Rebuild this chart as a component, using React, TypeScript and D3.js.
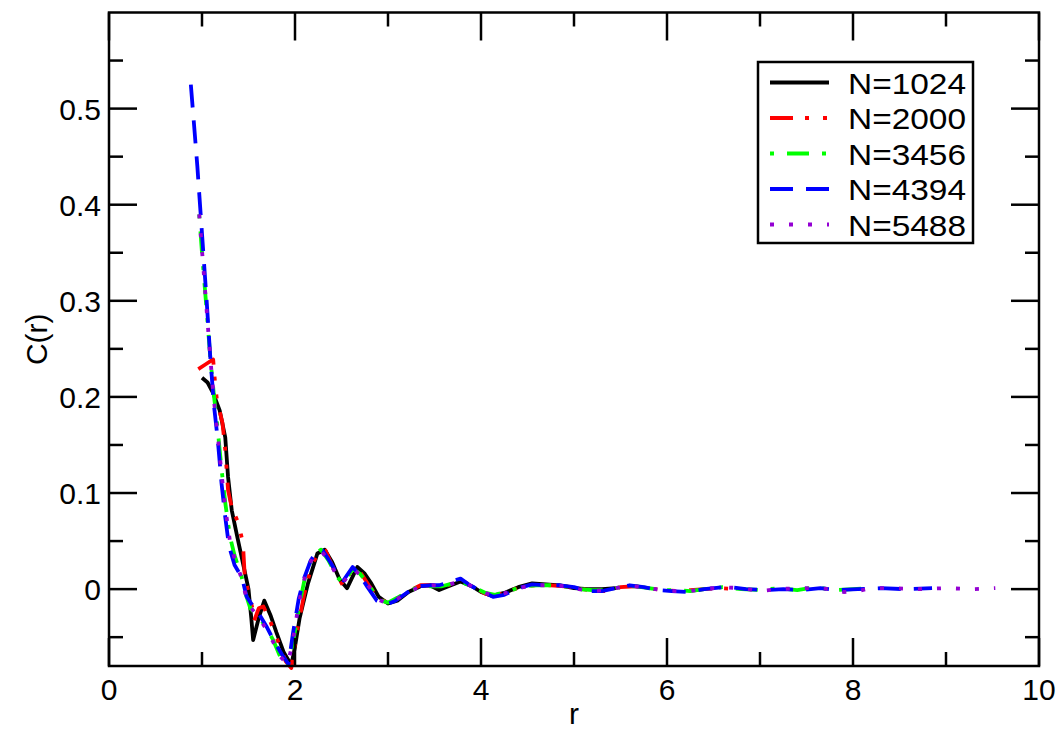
import React from "react";
import * as d3 from "d3";

// Correlation function C(r) for five system sizes
const seriesNames = ["N=1024", "N=2000", "N=3456", "N=4394", "N=5488"];

const r1024 = [1.0, 1.06, 1.12, 1.19, 1.25, 1.28, 1.32, 1.38, 1.44, 1.5, 1.53, 1.55, 1.61, 1.67, 1.74, 1.8, 1.88, 1.96, 2.0, 2.05, 2.14, 2.24, 2.32, 2.4, 2.48, 2.56, 2.67, 2.75, 2.82, 2.9, 3.0, 3.1, 3.22, 3.35, 3.45, 3.55, 3.65, 3.78, 3.9, 4.0, 4.12, 4.25, 4.4, 4.55, 4.7, 4.85, 5.0, 5.15, 5.3, 5.45];
const c1024 = [0.22, 0.215, 0.204, 0.186, 0.158, 0.117, 0.082, 0.054, 0.027, 0.0, -0.03, -0.053, -0.03, -0.012, -0.028, -0.045, -0.066, -0.079, -0.06, -0.03, 0.006, 0.037, 0.041, 0.028, 0.01, 0.001, 0.023, 0.016, 0.006, -0.008, -0.015, -0.012, -0.003, 0.003, 0.004, -0.001, 0.003, 0.008, 0.003, -0.003, -0.007, -0.004, 0.002, 0.006, 0.005, 0.004, 0.001, 0.0, 0.0, 0.001];

const r2000 = [0.96, 1.04, 1.12, 1.14, 1.16, 1.22, 1.25, 1.28, 1.32, 1.39, 1.44, 1.46, 1.54, 1.56, 1.61, 1.66, 1.74, 1.82, 1.9, 1.96, 2.02, 2.1, 2.18, 2.27, 2.33, 2.42, 2.52, 2.62, 2.7, 2.8, 2.9, 3.0, 3.1, 3.22, 3.35, 3.48, 3.58, 3.7, 3.8, 3.92, 4.05, 4.15, 4.3, 4.45, 4.6, 4.75, 4.9, 5.05, 5.2, 5.35, 5.5, 5.65, 5.8, 5.95, 6.1, 6.25, 6.4, 6.55, 6.8];
const c2000 = [0.229, 0.234, 0.239, 0.215, 0.197, 0.173, 0.145, 0.103, 0.085, 0.069, 0.048, 0.013, -0.019, -0.033, -0.02, -0.018, -0.035, -0.055, -0.075, -0.082, -0.045, -0.005, 0.025, 0.041, 0.04, 0.02, 0.003, 0.022, 0.018, 0.003, -0.01, -0.014, -0.01, -0.002, 0.004, 0.004, 0.002, 0.006, 0.009, 0.002, -0.005, -0.007, -0.002, 0.003, 0.004, 0.004, 0.003, 0.001, -0.002, -0.002, 0.002, 0.003, 0.001, -0.001, -0.002, -0.001, 0.0, 0.001, 0.0];

const r3456 = [0.97, 1.0, 1.05, 1.09, 1.13, 1.17, 1.21, 1.25, 1.3, 1.35, 1.42, 1.47, 1.52, 1.6, 1.68, 1.76, 1.84, 1.92, 1.98, 2.05, 2.12, 2.2, 2.28, 2.36, 2.45, 2.52, 2.62, 2.7, 2.8, 2.9, 3.0, 3.1, 3.22, 3.35, 3.48, 3.58, 3.7, 3.8, 3.92, 4.05, 4.15, 4.3, 4.45, 4.6, 4.75, 4.9, 5.05, 5.2, 5.35, 5.5, 5.65, 5.8, 5.95, 6.1, 6.25, 6.4, 6.6, 6.8, 7.0, 7.2, 7.4, 7.6, 7.8, 8.0, 8.16];
const c3456 = [0.39, 0.35, 0.29, 0.24, 0.2, 0.165, 0.125, 0.09, 0.055, 0.035, 0.015, -0.005, -0.02, -0.028, -0.038, -0.052, -0.07, -0.08, -0.055, -0.015, 0.018, 0.036, 0.041, 0.03, 0.013, 0.006, 0.021, 0.016, 0.003, -0.011, -0.014, -0.009, -0.002, 0.003, 0.003, 0.003, 0.006, 0.007, 0.002, -0.004, -0.006, -0.002, 0.003, 0.004, 0.004, 0.003, 0.0, -0.001, -0.001, 0.002, 0.003, 0.001, -0.001, -0.001, -0.002, 0.0, 0.002, 0.0, -0.001, 0.001, -0.001, 0.002, -0.001, 0.0, 0.001];

const r4394 = [0.88, 0.95, 1.0, 1.05, 1.09, 1.13, 1.17, 1.21, 1.25, 1.29, 1.35, 1.43, 1.48, 1.55, 1.62, 1.7, 1.78, 1.86, 1.93, 1.98, 2.04, 2.1, 2.17, 2.24, 2.3, 2.38, 2.46, 2.52, 2.62, 2.7, 2.78, 2.88, 2.98, 3.08, 3.2, 3.32, 3.45, 3.55, 3.65, 3.78, 3.88, 4.0, 4.13, 4.25, 4.4, 4.55, 4.7, 4.85, 5.0, 5.15, 5.3, 5.45, 5.6, 5.75, 5.9, 6.05, 6.23, 6.4, 6.64, 6.85, 7.05, 7.25, 7.45, 7.65, 7.85, 8.05, 8.3, 8.55, 8.85];
const c4394 = [0.525, 0.44, 0.37, 0.3, 0.24, 0.19, 0.155, 0.11, 0.075, 0.045, 0.025, 0.012, -0.008, -0.018, -0.027, -0.04, -0.055, -0.068, -0.078, -0.045, -0.01, 0.012, 0.03, 0.04, 0.04, 0.028, 0.015, 0.009, 0.023, 0.014, 0.002, -0.012, -0.016, -0.012, -0.004, 0.003, 0.004, 0.004, 0.007, 0.011, 0.004, -0.002, -0.008, -0.006, 0.001, 0.005, 0.004, 0.004, 0.002, -0.002, -0.002, 0.001, 0.004, 0.002, -0.001, -0.002, -0.003, 0.0, 0.0025, 0.0, -0.001, 0.0, -0.001, 0.001, -0.001, 0.0, 0.001, 0.0, 0.001];

const r5488 = [0.97, 1.01, 1.05, 1.09, 1.13, 1.17, 1.21, 1.25, 1.3, 1.35, 1.42, 1.47, 1.53, 1.6, 1.68, 1.76, 1.84, 1.92, 1.97, 2.04, 2.12, 2.2, 2.28, 2.36, 2.45, 2.52, 2.62, 2.7, 2.8, 2.9, 3.0, 3.1, 3.22, 3.35, 3.48, 3.58, 3.7, 3.8, 3.92, 4.05, 4.15, 4.3, 4.45, 4.6, 4.75, 4.9, 5.05, 5.2, 5.35, 5.5, 5.65, 5.8, 5.95, 6.1, 6.25, 6.4, 6.6, 6.8, 7.0, 7.2, 7.4, 7.6, 7.8, 7.9, 8.05, 8.2, 8.4, 8.7, 9.0, 9.3, 9.53];
const c5488 = [0.39, 0.34, 0.29, 0.24, 0.195, 0.16, 0.12, 0.085, 0.05, 0.032, 0.013, -0.006, -0.02, -0.028, -0.04, -0.054, -0.07, -0.078, -0.058, -0.015, 0.018, 0.035, 0.04, 0.03, 0.014, 0.007, 0.021, 0.015, 0.002, -0.011, -0.015, -0.01, -0.003, 0.003, 0.004, 0.003, 0.006, 0.008, 0.002, -0.004, -0.007, -0.003, 0.002, 0.004, 0.004, 0.003, 0.0, -0.002, -0.001, 0.002, 0.003, 0.001, -0.001, -0.002, -0.002, 0.0, 0.002, 0.001, -0.002, 0.0, 0.001, 0.001, 0.0, -0.003, -0.002, 0.001, 0.001, 0.0, 0.001, 0.0, 0.001];

const seriesR = [r1024, r2000, r3456, r4394, r5488];
const seriesC = [c1024, c2000, c3456, c4394, c5488];
const seriesColors = ["#000000", "#ff0000", "#00ff00", "#0000ff", "#9400d3"];
const seriesDash = ["none", "23,12,4,14,4,14", "4,13,22,13", "23,13", "4,15"];

const xMajorTicks = [0, 2, 4, 6, 8, 10];
const xMinorTicks = [1, 3, 5, 7, 9];
const yMajorTicks = [0, 0.1, 0.2, 0.3, 0.4, 0.5];
const yMinorTicks = [-0.05, 0.05, 0.15, 0.25, 0.35, 0.45, 0.55];

const W = 1062;
const H = 729;
const left = 109;
const right = 1039;
const top = 12.5;
const bottom = 666;

const FONT = "'Liberation Sans', Arial, Helvetica, sans-serif";

export default function App() {
  const x = d3.scaleLinear().domain([0, 10]).range([left, right]);
  const y = d3.scaleLinear().domain([-0.08, 0.6]).range([bottom, top]);
  const line = d3
    .line<[number, number]>()
    .x((d) => x(d[0]))
    .y((d) => y(d[1]));

  const majorLen = 28;
  const minorLen = 14;

  const legendX = 758;
  const legendY = 62;
  const legendW = 215;
  const legendH = 181;
  const rowGap = 35.5;

  return (
    <svg
      width={W}
      height={H}
      style={{ position: "absolute", left: 0, top: 0, background: "#fff" }}
      fontFamily={FONT}
    >
      <rect x={0} y={0} width={W} height={H} fill="#fff" />

      {/* data curves */}
      {seriesR.map((rs, i) => {
        const pts: [number, number][] = rs.map((r, k) => [r, seriesC[i][k]]);
        return (
          <path
            key={seriesNames[i]}
            d={line(pts) || ""}
            fill="none"
            stroke={seriesColors[i]}
            strokeWidth={3.8}
            strokeDasharray={seriesDash[i]}
            strokeLinejoin="round"
          />
        );
      })}

      {/* frame */}
      <rect
        x={left}
        y={top}
        width={right - left}
        height={bottom - top}
        fill="none"
        stroke="#000"
        strokeWidth={2.5}
      />

      {/* x ticks, bottom and top */}
      {xMajorTicks.map((t) => (
        <g key={"xM" + t}>
          <line x1={x(t)} x2={x(t)} y1={bottom} y2={bottom - majorLen} stroke="#000" strokeWidth={2.5} />
          <line x1={x(t)} x2={x(t)} y1={top} y2={top + majorLen} stroke="#000" strokeWidth={2.5} />
          <text x={x(t)} y={700} fontSize={30} textAnchor="middle" fill="#000">
            {String(t)}
          </text>
        </g>
      ))}
      {xMinorTicks.map((t) => (
        <g key={"xm" + t}>
          <line x1={x(t)} x2={x(t)} y1={bottom} y2={bottom - minorLen} stroke="#000" strokeWidth={2.5} />
          <line x1={x(t)} x2={x(t)} y1={top} y2={top + minorLen} stroke="#000" strokeWidth={2.5} />
        </g>
      ))}

      {/* y ticks, left and right */}
      {yMajorTicks.map((t) => (
        <g key={"yM" + t}>
          <line x1={left} x2={left + majorLen} y1={y(t)} y2={y(t)} stroke="#000" strokeWidth={2.5} />
          <line x1={right} x2={right - majorLen} y1={y(t)} y2={y(t)} stroke="#000" strokeWidth={2.5} />
          <text x={101} y={y(t) + 11} fontSize={30} textAnchor="end" fill="#000">
            {t === 0 ? "0" : d3.format(".1f")(t)}
          </text>
        </g>
      ))}
      {yMinorTicks.map((t) => (
        <g key={"ym" + t}>
          <line x1={left} x2={left + minorLen} y1={y(t)} y2={y(t)} stroke="#000" strokeWidth={2.5} />
          <line x1={right} x2={right - minorLen} y1={y(t)} y2={y(t)} stroke="#000" strokeWidth={2.5} />
        </g>
      ))}

      {/* axis labels */}
      <text x={(left + right) / 2} y={724} fontSize={30} textAnchor="middle" fill="#000">
        r
      </text>
      <text
        transform={`translate(47, ${(top + bottom) / 2}) rotate(-90)`}
        fontSize={30}
        textAnchor="middle"
        fill="#000"
      >
        C(r)
      </text>

      {/* legend */}
      <rect
        x={legendX}
        y={legendY}
        width={legendW}
        height={legendH}
        fill="#fff"
        stroke="#000"
        strokeWidth={2.5}
      />
      {seriesNames.map((name, i) => {
        const ly = legendY + 20.5 + i * rowGap;
        return (
          <g key={"leg" + name}>
            <line
              x1={770}
              x2={829}
              y1={ly}
              y2={ly}
              stroke={seriesColors[i]}
              strokeWidth={3.8}
              strokeDasharray={seriesDash[i]}
            />
            <text
              x={848}
              y={ly + 11}
              fontSize={30}
              fill="#000"
              textLength={118}
              lengthAdjust="spacingAndGlyphs"
            >
              {name}
            </text>
          </g>
        );
      })}
    </svg>
  );
}
